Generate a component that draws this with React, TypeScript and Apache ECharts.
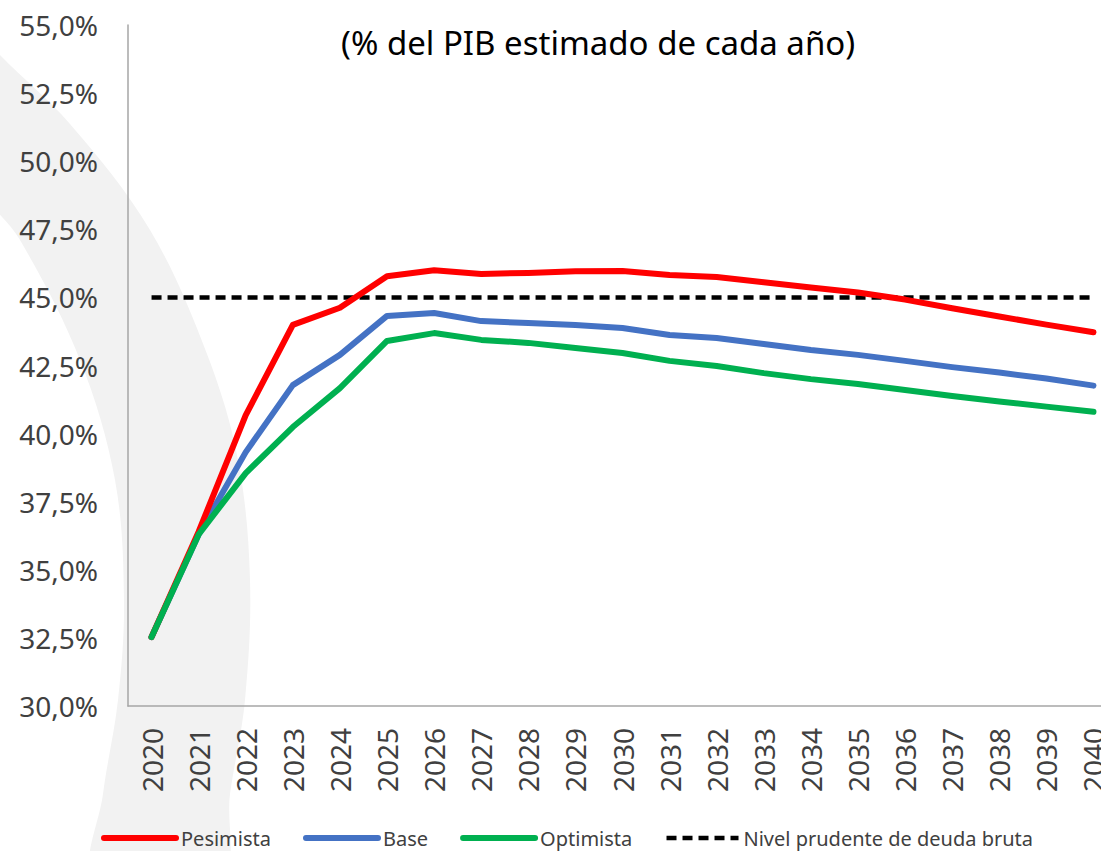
import React, { useEffect, useRef } from "react";
import * as echarts from "echarts";

const years = ["2020","2021","2022","2023","2024","2025","2026","2027","2028","2029","2030","2031","2032","2033","2034","2035","2036","2037","2038","2039","2040"];
const pesimista = [32.53,36.4,40.68,43.99,44.62,45.78,46.0,45.86,45.9,45.96,45.97,45.82,45.75,45.56,45.36,45.18,44.92,44.6,44.3,44.0,43.72];
const base = [32.53,36.3,39.32,41.78,42.89,44.32,44.43,44.13,44.06,43.99,43.88,43.62,43.51,43.29,43.07,42.89,42.67,42.44,42.24,42.02,41.76];
const optimista = [32.53,36.3,38.55,40.24,41.67,43.4,43.69,43.44,43.33,43.14,42.96,42.67,42.48,42.22,42.0,41.82,41.6,41.38,41.18,40.99,40.8];
const nivelPrudente = [45,45,45,45,45,45,45,45,45,45,45,45,45,45,45,45,45,45,45,45,45];
const seriesNames = ["Pesimista", "Base", "Optimista", "Nivel prudente de deuda bruta"];
const titleText = "(% del PIB estimado de cada año)";

const FONT = "'Noto Sans', sans-serif";

export default function App() {
  const ref = useRef<HTMLDivElement>(null);
  useEffect(() => {
    if (!ref.current) return;
    const chart = echarts.init(ref.current, null, { renderer: "svg" });
    chart.setOption({
      animation: false,
      backgroundColor: "#ffffff",
      textStyle: { fontFamily: FONT },
      title: {
        text: titleText,
        left: 336,
        top: 21,
        textStyle: { fontFamily: FONT, fontSize: 33, fontWeight: "normal", color: "#000000" },
      },
      graphic: [
        {
          type: "polygon",
          z: -10,
          silent: true,
          shape: {
            smooth: 0.35,
            points: [
              [-30, 20], [0, 55], [70, 124], [150, 230], [207, 354], [238, 460], [250, 580], [245, 700], [230, 794], [220, 880],
              [95, 880], [103, 794], [118, 700], [124, 600], [115, 480], [80, 360], [20, 240], [-30, 170],
            ],
          },
          style: { fill: "#f2f2f2" },
        },
      ],
      legend: {
        data: [
          { name: seriesNames[0], lineStyle: { width: 6, cap: "round" } },
          { name: seriesNames[1], lineStyle: { width: 6, cap: "round" } },
          { name: seriesNames[2], lineStyle: { width: 6, cap: "round" } },
          { name: seriesNames[3], lineStyle: { width: 4.5, type: [10, 6] } },
        ],
        left: 96,
        top: 823,
        itemWidth: 72,
        itemHeight: 14,
        itemGap: 32,
        itemStyle: { opacity: 0 },
        textStyle: { fontFamily: FONT, fontSize: 20, color: "#404040" },
      },
      grid: { left: 128, top: 25, height: 681, width: 989, containLabel: false, outerBoundsMode: "none" },
      xAxis: {
        type: "category",
        data: years,
        boundaryGap: true,
        axisLine: { show: true, lineStyle: { color: "#a6a6a6", width: 1.5 } },
        axisTick: { show: false },
        axisLabel: { rotate: 90, margin: 22, fontSize: 28, color: "#404040", fontFamily: FONT, interval: 0 },
        splitLine: { show: false },
      },
      yAxis: {
        type: "value",
        min: 30,
        max: 55,
        interval: 2.5,
        axisLine: { show: true, lineStyle: { color: "#a6a6a6", width: 1.5 } },
        axisTick: { show: false },
        splitLine: { show: false },
        axisLabel: {
          margin: 30,
          fontSize: 28,
          color: "#404040",
          fontFamily: FONT,
          formatter: (v: number) => v.toFixed(1).replace(".", ",") + "%",
        },
      },
      series: [
        {
          name: seriesNames[0], type: "line", data: pesimista, symbol: "none",
          lineStyle: { color: "#ff0000", width: 6, cap: "round", join: "round" }, itemStyle: { color: "#ff0000" }, z: 4,
        },
        {
          name: seriesNames[1], type: "line", data: base, symbol: "none",
          lineStyle: { color: "#4472c4", width: 6, cap: "round", join: "round" }, itemStyle: { color: "#4472c4" }, z: 3,
        },
        {
          name: seriesNames[2], type: "line", data: optimista, symbol: "none",
          lineStyle: { color: "#00b050", width: 6, cap: "round", join: "round" }, itemStyle: { color: "#00b050" }, z: 5,
        },
        {
          name: seriesNames[3], type: "line", data: nivelPrudente, symbol: "none",
          lineStyle: { color: "#000000", width: 4.5, type: [10, 6] }, itemStyle: { color: "#000000" }, z: 2,
        },
      ],
    });
    return () => chart.dispose();
  }, []);
  return <div ref={ref} style={{ position: "fixed", left: 0, top: 0, width: 1101, height: 851 }} />;
}
